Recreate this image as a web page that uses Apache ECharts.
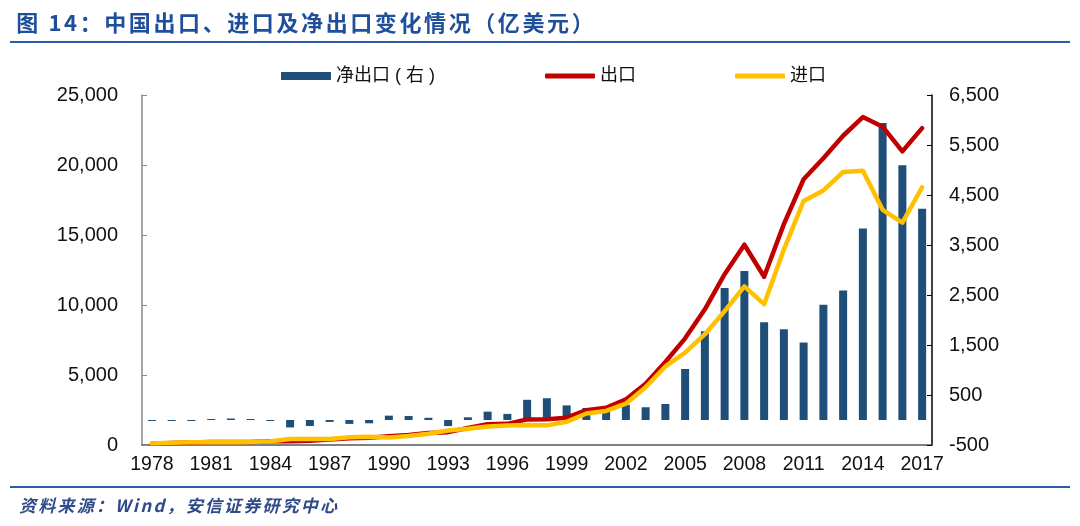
<!DOCTYPE html>
<html>
<head>
<meta charset="utf-8">
<script src="https://cdn.jsdelivr.net/npm/echarts@6/dist/echarts.min.js"></script>
<style>
html,body{margin:0;padding:0;background:#fff;}
#chart{width:1080px;height:526px;}
</style>
</head>
<body>
<div id="chart"></div>
<script>
var titleText = '图 14：中国出口、进口及净出口变化情况（亿美元）';
var sourceText = '资料来源：Wind，安信证券研究中心';
var years = [];
for (var y = 1978; y <= 2017; y++) years.push(String(y));
var exportsData = [98,137,181,220,223,222,261,274,309,394,475,525,621,718,849,917,1210,1488,1511,1828,1837,1949,2492,2661,3256,4382,5933,7620,9690,12201,14307,12016,15778,18984,20487,22090,23423,22735,20976,22635];
var importsData = [109,157,200,220,193,214,274,423,429,432,553,591,534,638,806,1040,1156,1321,1388,1424,1402,1657,2251,2436,2952,4128,5612,6600,7915,9561,11326,10059,13963,17435,18184,19500,19592,16796,15879,18410];
var netData = [-11,-20,-19,0,30,8,-13,-149,-120,-38,-78,-66,87,81,44,-122,54,167,122,404,435,292,241,226,304,255,321,1020,1775,2639,2981,1957,1815,1549,2303,2590,3831,5939,5097,4225];
var leftTicks = {min:0, max:25000, interval:5000};
var rightTicks = {min:-500, max:6500, interval:1000};
var seriesNames = ['净出口 ( 右 )', '出口', '进口'];

function spaced(str, key){
  return str.split('').map(function(c){ return '{' + key + '|' + c + '}'; }).join('');
}
function fmt(v){ return Number(v).toLocaleString('en-US'); }

var CJK = '"Liberation Sans", "Noto Sans CJK SC", sans-serif';
var LAT = '"Liberation Sans", sans-serif';
var chart = echarts.init(document.getElementById('chart'));
chart.setOption({
  animation: false,
  backgroundColor: '#fff',
  title: [{
    text: spaced(titleText, 't'),
    left: 10, top: 7,
    textStyle: {
      rich: { t: { fontSize: 22, fontWeight: 'bold', color: '#1F4E9B', fontFamily: '"Noto Sans CJK SC", sans-serif', padding: [0, 1.3] } }
    }
  }, {
    text: spaced(sourceText, 's'),
    left: 13, top: 492,
    textStyle: {
      rich: { s: { fontSize: 17, fontStyle: 'italic', color: '#2F4A88', fontFamily: '"Noto Sans CJK SC", "Liberation Sans", sans-serif', padding: [0, 1.1] } }
    }
  }],
  graphic: [
    { type: 'line', shape: {x1: 10, y1: 42, x2: 1070, y2: 42}, style: {stroke: '#2E5BA8', lineWidth: 2} },
    { type: 'line', shape: {x1: 10, y1: 487, x2: 1070, y2: 487}, style: {stroke: '#2E5BA8', lineWidth: 2} }
  ],
  legend: [{
    data: [seriesNames[0]], left: 276, top: 62,
    itemWidth: 50, itemHeight: 8, icon: 'rect',
    textStyle: {fontSize: 18, color: '#111', fontFamily: CJK}
  }, {
    data: [seriesNames[1]], left: 540, top: 62,
    itemWidth: 50, itemHeight: 5, icon: 'roundRect',
    textStyle: {fontSize: 18, color: '#111', fontFamily: CJK}
  }, {
    data: [seriesNames[2]], left: 730, top: 62,
    itemWidth: 50, itemHeight: 5, icon: 'roundRect',
    textStyle: {fontSize: 18, color: '#111', fontFamily: CJK}
  }],
  grid: {left: 142, right: 148, top: 95, bottom: 81, containLabel: false},
  xAxis: {
    type: 'category', data: years, boundaryGap: true,
    axisLine: {lineStyle: {color: '#555', width: 1.5}},
    axisTick: {inside: true, length: 5, interval: 2, lineStyle: {color: '#555'}},
    axisLabel: {interval: 2, fontSize: 19.5, color: '#111', margin: 10, fontFamily: LAT},
    splitLine: {show: false}
  },
  yAxis: [{
    type: 'value', min: leftTicks.min, max: leftTicks.max, interval: leftTicks.interval,
    axisLine: {show: true, lineStyle: {color: '#888', width: 1.5}},
    axisTick: {show: true, inside: true, length: 5, lineStyle: {color: '#888'}},
    axisLabel: {fontSize: 20, color: '#111', margin: 24, formatter: fmt, fontFamily: LAT},
    splitLine: {show: false}
  }, {
    type: 'value', min: rightTicks.min, max: rightTicks.max, interval: rightTicks.interval,
    axisLine: {show: true, lineStyle: {color: '#000', width: 1.5}},
    axisTick: {show: true, inside: true, length: 5, lineStyle: {color: '#000'}},
    axisLabel: {fontSize: 20, color: '#111', margin: 17, formatter: fmt, fontFamily: LAT},
    splitLine: {show: false}
  }],
  series: [{
    name: seriesNames[0], type: 'bar', yAxisIndex: 1, data: netData,
    barWidth: 8, barMinHeight: 1,
    itemStyle: {color: '#1F4E79'}
  }, {
    name: seriesNames[1], type: 'line', data: exportsData, yAxisIndex: 0,
    symbol: 'none', lineStyle: {color: '#C00000', width: 4.5, cap: 'round', join: 'round'},
    itemStyle: {color: '#C00000'}
  }, {
    name: seriesNames[2], type: 'line', data: importsData, yAxisIndex: 0,
    symbol: 'none', lineStyle: {color: '#FFC000', width: 4.5, cap: 'round', join: 'round'},
    itemStyle: {color: '#FFC000'}
  }]
});
</script>
</body>
</html>
